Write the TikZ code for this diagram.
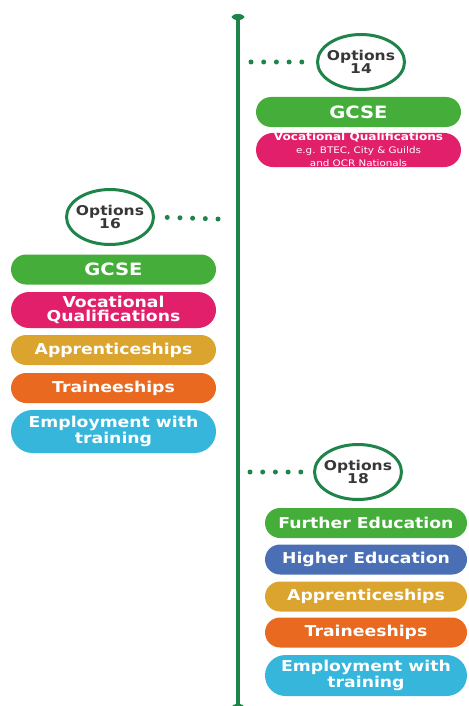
\documentclass[tikz,border=0pt]{standalone}
\usepackage{fontspec}
\newfontfamily\optfont[FakeStretch=1.15]{DejaVu Sans}
\usetikzlibrary{positioning,shapes.geometric,shapes.misc}
\definecolor{linegreen}{RGB}{30,132,73}
\definecolor{darktext}{RGB}{55,55,55}
\definecolor{gcsegreen}{RGB}{69,174,58}
\definecolor{vocpink}{RGB}{226,31,106}
\definecolor{appyellow}{RGB}{218,164,46}
\definecolor{trnorange}{RGB}{232,105,31}
\definecolor{empcyan}{RGB}{53,182,218}
\definecolor{heblue}{RGB}{74,111,181}

\begin{document}
\begin{tikzpicture}[x=1pt,y=-1pt,
  opt/.style={ellipse,draw=linegreen,line width=3pt,fill=white,minimum width=87pt,minimum height=55pt,inner xsep=-10pt,inner ysep=0pt,align=center,text=darktext,font=\optfont\bfseries\fontsize{13.5}{13}\selectfont},
  bar/.style={rounded rectangle,fill=#1,text=white,minimum width=205pt,minimum height=30pt,inner sep=0pt,align=center,font=\optfont\bfseries\fontsize{15}{14}\selectfont},
  tip/.style={ellipse,fill=linegreen,minimum width=13pt,minimum height=6pt,inner sep=0pt},
  dots/.style={linegreen,line width=5pt,line cap=round,dash pattern=on 0pt off 12.7pt}]
  \useasboundingbox (0,0) rectangle (468,706);

  % time line
  \node[tip] (top) at (238,17) {};
  \node[tip] (bottom) at (238,707) {};
  \draw[linegreen,line width=3.5pt] (top.center) -- (bottom.center);

  % options at 14
  \node[opt] (o14) at (361,62) {Options\\14};
  \coordinate (d14) at (251,62);
  \draw[dots,shorten >=12pt] (d14) -- (o14.west);
  \node[bar=gcsegreen,font=\optfont\bfseries\fontsize{17}{16}\selectfont] (gcse14) at (358.5,112) {GCSE};
  \node[bar=vocpink,minimum height=34pt] (voc14) at (358.5,150) {{\fontsize{10.5}{10}\selectfont Vocational Qualifications}\\[-1pt]
    {\mdseries\fontsize{9}{8}\selectfont e.g. BTEC, City \& Guilds}\\[-1pt]{\mdseries\fontsize{9}{8}\selectfont and OCR Nationals}};

  % options at 16
  \node[opt] (o16) at (110,217) {Options\\16};
  \coordinate (d16) at (218,219);
  \draw[dots,shorten >=11pt] (d16) -- (o16.east);
  \node[bar=gcsegreen,font=\optfont\bfseries\fontsize{17}{16}\selectfont] (gcse16) at (113.5,269.5) {GCSE};
  \node[bar=vocpink,minimum height=36pt] (voc16) at (113.5,310) {Vocational\\Qualifications};
  \node[bar=appyellow] (app16) at (113.5,350) {Apprenticeships};
  \node[bar=trnorange] (trn16) at (113.5,388) {Traineeships};
  \node[bar=empcyan,minimum height=43pt] (emp16) at (113.5,431.5) {Employment with\\training};

  % options at 18
  \node[opt] (o18) at (358,472) {Options\\18};
  \coordinate (d18) at (250,472);
  \draw[dots,shorten >=11pt] (d18) -- (o18.west);
  \node[bar=gcsegreen,minimum width=202pt] (fe18) at (366,523) {Further Education};
  \node[bar=heblue,minimum width=202pt] (he18) at (366,559.5) {Higher Education};
  \node[bar=appyellow,minimum width=202pt] (app18) at (366,596.5) {Apprenticeships};
  \node[bar=trnorange,minimum width=202pt] (trn18) at (366,632.5) {Traineeships};
  \node[bar=empcyan,minimum width=202pt,minimum height=41pt] (emp18) at (366,675.5) {Employment with\\training};
\end{tikzpicture}
\end{document}
